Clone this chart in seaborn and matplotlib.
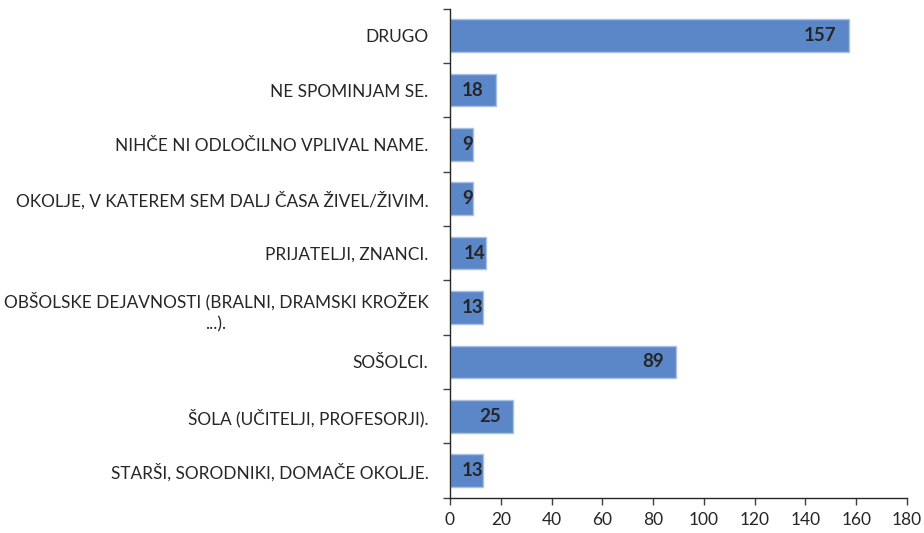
import matplotlib
matplotlib.use("Agg")
import matplotlib.pyplot as plt
import seaborn as sns
import pandas as pd
import numpy as np
from matplotlib.ticker import FixedLocator

categories = [
    "DRUGO",
    "NE SPOMINJAM SE.",
    "NIHČE NI ODLOČILNO VPLIVAL NAME.",
    "OKOLJE, V KATEREM SEM DALJ ČASA ŽIVEL/ŽIVIM.",
    "PRIJATELJI, ZNANCI.",
    "OBŠOLSKE DEJAVNOSTI (BRALNI, DRAMSKI KROŽEK\n...).",
    "SOŠOLCI.",
    "ŠOLA (UČITELJI, PROFESORJI).",
    "STARŠI, SORODNIKI, DOMAČE OKOLJE.",
]
values = [157, 18, 9, 9, 14, 13, 89, 25, 13]
x_ticks = [0, 20, 40, 60, 80, 100, 120, 140, 160, 180]

sns.set_style("white")
plt.rcParams["font.family"] = ["Lato", "DejaVu Sans"]

df = pd.DataFrame({"cat": categories, "val": values})

fig = plt.figure(figsize=(9.24, 5.33), dpi=100)
ax = fig.add_axes([0.487, 0.066, 0.4946, 0.918])

sns.barplot(data=df, y="cat", x="val", orient="h", color="#5B87C8",
            edgecolor="#A9C0E6", linewidth=1.0, width=0.6, saturation=1, ax=ax)

ax.set_xlim(0, 180)
ax.set_ylim(len(categories) - 0.5, -0.5)
ax.set_xticks(x_ticks)
ax.set_xlabel("")
ax.set_ylabel("")
ax.tick_params(axis="x", labelsize=12.5, colors="#404040", length=5, width=1,
               direction="out", bottom=True, pad=5)
ax.tick_params(axis="x", labelcolor="#262626")
ax.tick_params(axis="y", which="major", length=0, labelsize=12.4, labelcolor="#262626", pad=15.5)
ax.yaxis.set_minor_locator(FixedLocator(np.arange(-0.5, len(categories), 1.0)))
ax.tick_params(axis="y", which="minor", length=5, width=1, color="#404040", left=True)
for lab in ax.get_yticklabels():
    lab.set_multialignment("center")
    lab.set_linespacing(1.45)

for s in ["top", "right"]:
    ax.spines[s].set_visible(False)
for s in ["left", "bottom"]:
    ax.spines[s].set_color("#262626")
    ax.spines[s].set_linewidth(1.0)

# value labels: inside end, but kept at least a margin away from the base
fig.canvas.draw()
renderer = fig.canvas.get_renderer()
px_per_pt = fig.dpi / 72.0
for i, v in enumerate(values):
    t = ax.annotate(str(v), xy=(v, i), xytext=(-12 / px_per_pt, 0), textcoords="offset points",
                    ha="right", va="center", fontsize=13.5, fontweight="bold",
                    color="#262626")
    bb = t.get_window_extent(renderer)
    x0 = ax.transData.transform((0, i))[0]
    if bb.x0 - x0 < 9:
        t.remove()
        ax.annotate(str(v), xy=(v, i), xytext=(0, 0), textcoords="offset points",
                    ha="right", va="center", fontsize=13.5, fontweight="bold",
                    color="#262626")

fig.savefig("out.png", dpi=100)
